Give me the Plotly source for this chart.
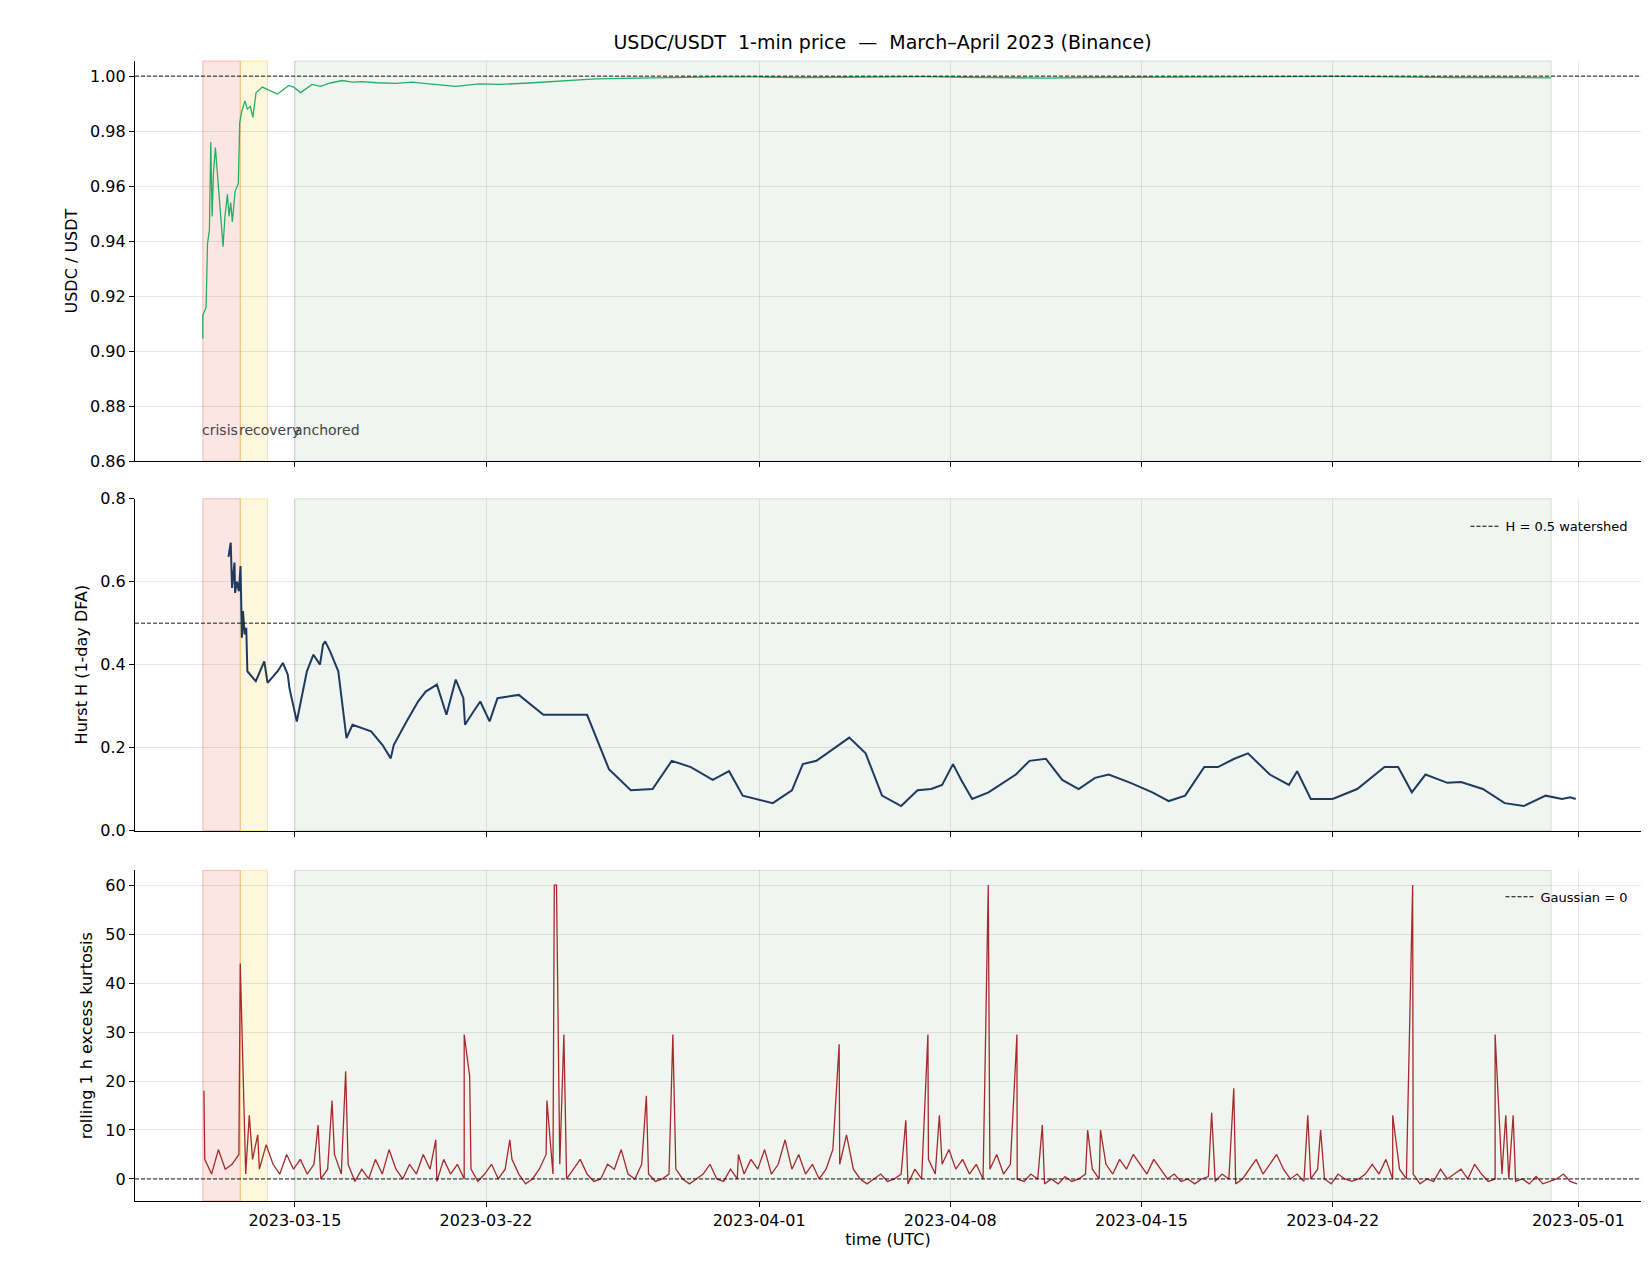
import pandas as pd
import plotly.graph_objects as go
from plotly.subplots import make_subplots

# all times are day offsets from 2023-03-15 00:00 UTC
BASE = pd.Timestamp("2023-03-15")

price_days = [-3.37, -3.37, -3.25, -3.20, -3.13, -3.08, -3.03, -2.98, -2.91, -2.83,
              -2.75, -2.63, -2.56, -2.47, -2.41, -2.35, -2.29, -2.19, -2.07, -2.02,
              -1.95, -1.83, -1.74, -1.63, -1.54, -1.42, -1.19, -0.95, -0.64, -0.22,
              -0.04, 0.21, 0.63, 0.94, 1.3, 1.73, 2.1, 2.47, 3.0, 3.69, 4.3, 4.91, 5.4, 5.89, 6.75,
              7.5, 8.58, 9.3, 10.0, 11.0, 12.0, 13.0, 14.0, 15.5, 17.0, 18.5, 20.0, 21.5, 23.0, 24.5,
              26.0, 27.5, 29.0, 30.5, 32.0, 33.5, 35.0, 36.5, 38.0, 39.5, 41.0, 42.5, 44.0, 45.0, 46.0]
price_vals = [0.9045, 0.913, 0.916, 0.939, 0.944, 0.976, 0.949, 0.965, 0.974, 0.963,
              0.951, 0.938, 0.949, 0.957, 0.949, 0.954, 0.947, 0.958, 0.961, 0.983,
              0.987, 0.991, 0.988, 0.989, 0.985, 0.994, 0.996, 0.995, 0.9935, 0.9966,
              0.996, 0.994, 0.997, 0.9963, 0.9975, 0.9984, 0.9978, 0.998, 0.9976, 0.9974, 0.9978, 0.9972, 0.9968, 0.9963, 0.9972,
              0.9970, 0.9975, 0.9980, 0.9985, 0.9990, 0.9992, 0.9994, 0.9995, 0.9997, 0.9997, 0.9995, 0.9996, 0.9998, 0.9998, 0.9996,
              0.9994, 0.9993, 0.9995, 0.9996, 0.9997, 0.9998, 0.9998, 0.9999, 0.9999, 0.9998, 0.9996, 0.9995, 0.9995, 0.9994, 0.9994]

hurst_days = [-2.43, -2.35, -2.30, -2.21, -2.19, -2.12, -2.05, -1.99, -1.94, -1.90,
              -1.84, -1.78, -1.74, -1.43, -1.12, -1.00, -0.63, -0.44, -0.26, -0.20,
              0.07, 0.44, 0.68, 0.92, 1.03, 1.11, 1.29, 1.59, 1.89, 2.00,
              2.11, 2.79, 3.21, 3.51, 3.62, 4.09, 4.51, 4.79, 5.20, 5.55,
              5.89, 6.17, 6.23, 6.54, 6.79, 7.13, 7.42, 8.2, 9.1, 10.7,
              11.5, 12.3, 13.1, 13.8, 14.5, 15.3, 15.9, 16.4, 16.9, 17.5,
              18.2, 18.6, 19.1, 19.8, 20.3, 20.9, 21.5, 22.2, 22.8, 23.3,
              23.7, 24.1, 24.4, 24.8, 25.4, 26.4, 26.9, 27.5, 28.1, 28.7,
              29.3, 29.8, 30.6, 31.4, 32.0, 32.6, 33.3, 33.8, 34.4, 34.9,
              35.7, 36.4, 36.7, 37.2, 38.0, 38.9, 39.9, 40.4, 40.9, 41.4,
              42.2, 42.7, 43.5, 44.3, 45.0, 45.8, 46.4, 46.7, 46.9]
hurst_vals = [0.66, 0.694, 0.585, 0.646, 0.573, 0.60, 0.577, 0.638, 0.465, 0.529,
              0.473, 0.489, 0.384, 0.36, 0.408, 0.356, 0.384, 0.404, 0.376, 0.344,
              0.263, 0.384, 0.424, 0.40, 0.448, 0.456, 0.432, 0.384, 0.223, 0.239,
              0.255, 0.239, 0.206, 0.174, 0.206, 0.263, 0.311, 0.335, 0.352, 0.279,
              0.364, 0.319, 0.255, 0.287, 0.311, 0.263, 0.319, 0.327, 0.279, 0.279,
              0.148, 0.097, 0.10, 0.168, 0.153, 0.122, 0.143, 0.084, 0.076, 0.066,
              0.097, 0.16, 0.168, 0.20, 0.224, 0.186, 0.084, 0.059, 0.097, 0.10,
              0.11, 0.16, 0.122, 0.076, 0.092, 0.135, 0.168, 0.173, 0.122, 0.10,
              0.127, 0.135, 0.115, 0.092, 0.071, 0.084, 0.153, 0.153, 0.173, 0.186,
              0.135, 0.11, 0.143, 0.076, 0.076, 0.10, 0.153, 0.153, 0.092, 0.135,
              0.115, 0.117, 0.10, 0.066, 0.059, 0.084, 0.076, 0.08, 0.076]

# kurtosis: spikes
spike_days = [-3.33, -2.0, -1.67, -1.36, 0.85, 1.36, 1.86, 5.16, 6.2, 6.4,
              7.87, 9.23, 9.5, 9.58, 9.85, 12.87, 13.84, 16.24, 19.93, 22.37,
              23.18, 23.6, 25.39, 26.44, 27.37, 29.03, 29.5, 33.57, 34.38, 37.09,
              37.56, 40.2, 40.93, 43.95, 44.34, 44.61]
spike_vals = [18, 44, 13, 9, 11, 16, 22, 8, 29.5, 21,
              8, 16, 60, 60, 29.5, 17, 29.5, 5, 27.5, 12,
              29.5, 13, 60, 29.5, 11, 10, 10, 13.5, 18.5, 13,
              10, 13, 60, 29.5, 13, 13]
# background level, four readings per day starting at day -3.3
bg_start = -3.3
bg_vals = [
    4, 1, 6, 2,   3, 5, 1, 4,   2, 7, 3, 1,   5, 2, 4, 1,
    3, 0, 2, 5,   1, 3, -0.5, 2,   0, 4, 1, 6,   2, 0, 3, 1,
    5, 2, -0.5, 4,   1, 3, 0, 2,   -0.5, 1, 3, 0,   2, 4, 1, -1,
    0, 2, 5, 1,   3, 0, 2, 4,   1, -0.5, 0, 3,   2, 6, 1, 0,
    3, 1, -0.5, 0,   1, 2, 0, -1,   0, 1, 3, 0,   -0.5, 2, 0, 1,
    4, 2, 6, 1,   3, 8, 2, 5,   1, 3, 0, 2,   6, 3, 9, 2,
    0, -1, 0, 1,   -0.5, 0, 1, -1,   2, 0, 4, 1,   3, 6, 2, 4,
    1, 3, 0, 2,   5, 1, 3, 0,   -0.5, 1, 0, -1,   0, -1, 0.5, -0.5,
    0, 1, 2, 0,   3, 1, 4, 2,   5, 3, 1, 4,   2, 0, 1, -0.5,
    0, -1, 0, 0.5,   -0.5, 1, 0, -1,   0, 2, 4, 1,   3, 5, 2, 0,
    1, -0.5, 0, 2,   0, -1, 1, 0,   -0.5, 0, 1, 3,   1, 4, 0, 2,
    0, 1, -1, 0,   -0.5, 2, 0, 1,   2, 0, 3, 1,   -0.5, 0, 1, 0,
    -0.5, 0, -1, 0.5,   -1, -0.5, 0, 1,   -0.5, -1,
]
bg_days = [bg_start + 0.25 * i for i in range(len(bg_vals))]

regimes = [("crisis", -3.37, -2.0, "rgba(231,76,60,0.14)", "rgba(231,76,60,0.35)"),
           ("recovery", -2.0, -1.0, "rgba(241,196,15,0.14)", "rgba(241,196,15,0.35)"),
           ("anchored", 0.0, 46.0, "rgba(46,110,60,0.07)", "rgba(120,140,120,0.25)")]


def t(days):
    return [BASE + pd.Timedelta(days=d) for d in days]


kurt = sorted(zip(spike_days + bg_days, spike_vals + bg_vals))
k_days = [d for d, _ in kurt]
k_vals = [v for _, v in kurt]

FONT = "DejaVu Sans"
fig = make_subplots(rows=3, cols=1, shared_xaxes=True, vertical_spacing=0.03)
fig.update_yaxes(domain=[0.649, 1.0], row=1, col=1)
fig.update_yaxes(domain=[0.325, 0.616], row=2, col=1)
fig.update_yaxes(domain=[0.0, 0.290], row=3, col=1)

for name, a, b, fill, edge in regimes:
    for yref in ("y domain", "y2 domain", "y3 domain"):
        fig.add_shape(type="rect", xref="x", yref=yref, x0=t([a])[0], x1=t([b])[0], y0=0, y1=1,
                      fillcolor=fill, line=dict(color=edge, width=1), layer="below")
    fig.add_annotation(x=t([a])[0], y=0.8715, xref="x", yref="y", text=name, showarrow=False,
                       xanchor="left", xshift=-3, font=dict(size=14, color="#444444", family=FONT))

fig.add_trace(go.Scatter(x=t(price_days), y=price_vals, mode="lines",
                         line=dict(color="#27ae60", width=1.3), showlegend=False), row=1, col=1)
fig.add_trace(go.Scatter(x=t(hurst_days), y=hurst_vals, mode="lines",
                         line=dict(color="#1f3a5f", width=2), showlegend=False), row=2, col=1)
fig.add_trace(go.Scatter(x=t(k_days), y=k_vals, mode="lines",
                         line=dict(color="#a52a2a", width=1.3), showlegend=False), row=3, col=1)

dash = "4px,2px"
fig.add_hline(y=1.0, line=dict(color="black", width=0.9, dash=dash), row=1, col=1)
fig.add_hline(y=0.5, line=dict(color="black", width=0.9, dash=dash), row=2, col=1)
fig.add_hline(y=0.0, line=dict(color="black", width=0.9, dash=dash), row=3, col=1)

# legend entries
fig.add_trace(go.Scatter(x=[None], y=[None], mode="lines", name="H = 0.5 watershed",
                         line=dict(color="black", width=1, dash=dash), legend="legend2"), row=2, col=1)
fig.add_trace(go.Scatter(x=[None], y=[None], mode="lines", name="Gaussian = 0",
                         line=dict(color="black", width=1, dash=dash), legend="legend3"), row=3, col=1)

ticks = ["2023-03-15", "2023-03-22", "2023-04-01", "2023-04-08", "2023-04-15", "2023-04-22", "2023-05-01"]
axis_style = dict(showline=True, linecolor="black", linewidth=1.2, ticks="outside", ticklen=5,
                  tickcolor="black", showgrid=True, gridcolor="rgba(0,0,0,0.09)", zeroline=False,
                  tickfont=dict(size=16, family=FONT, color="black"))
fig.update_xaxes(**axis_style, range=["2023-03-09 03:30", "2023-05-03 07:00"],
                 tickvals=ticks, ticktext=ticks)
fig.update_xaxes(title_text="time (UTC)", title_font=dict(size=16, family=FONT), title_standoff=4, row=3, col=1)
fig.update_yaxes(**axis_style)
fig.update_yaxes(range=[0.86, 1.0055], dtick=0.02, tickformat=".2f", title_text="USDC / USDT", row=1, col=1)
fig.update_yaxes(range=[0, 0.8], dtick=0.2, tickformat=".1f", title_text="Hurst H (1-day DFA)", row=2, col=1)
fig.update_yaxes(range=[-4.5, 63], tickvals=[0, 10, 20, 30, 40, 50, 60],
                 title_text="rolling 1 h excess kurtosis", row=3, col=1)
fig.update_yaxes(title_font=dict(size=16, family=FONT), title_standoff=8)

leg = dict(xanchor="right", yanchor="top", bgcolor="rgba(0,0,0,0)", font=dict(size=13, family=FONT))
fig.update_layout(
    width=1650, height=1275,
    margin=dict(l=127, r=17, t=53, b=82),
    plot_bgcolor="white", paper_bgcolor="white",
    font=dict(family=FONT, color="black"),
    title=dict(text="USDC/USDT  1-min price  —  March–April 2023 (Binance)", x=0.53, xanchor="center",
               y=0.978, font=dict(size=19, family=FONT)),
    legend2=dict(x=0.995, y=0.605, **leg),
    legend3=dict(x=0.995, y=0.28, **leg),
)

fig.write_html("out.html")
